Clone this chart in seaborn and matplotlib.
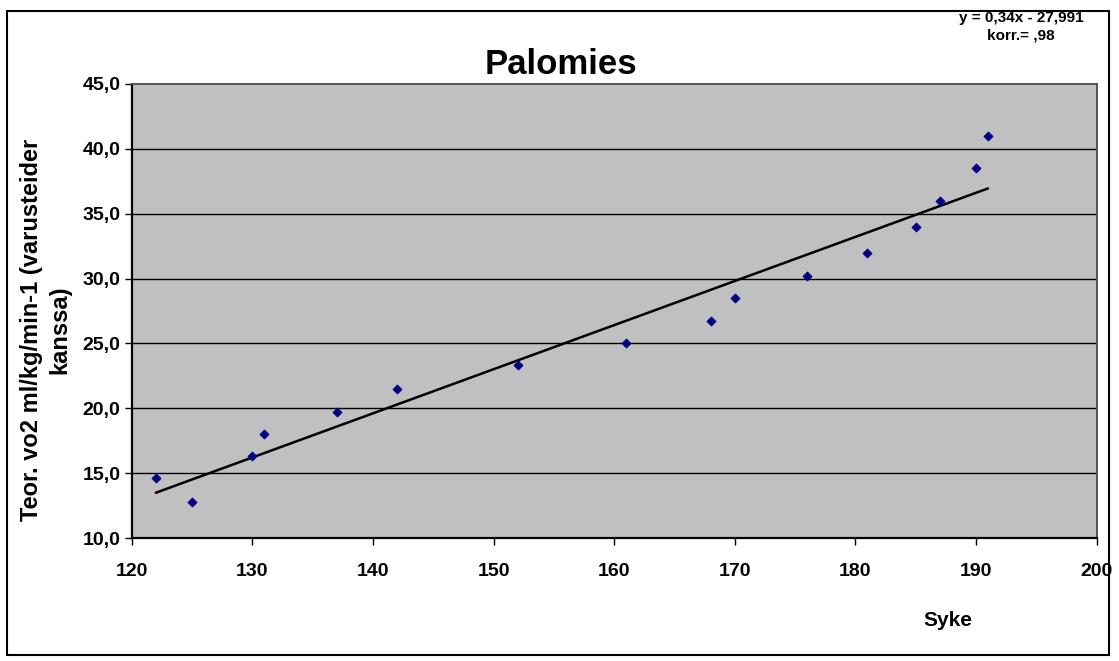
import numpy as np
import pandas as pd
import seaborn as sns
import matplotlib.pyplot as plt
from matplotlib.patches import Rectangle

# values
syke = [122, 125, 130, 131, 137, 142, 152, 161, 168, 170, 176, 181, 185, 187, 190, 191]
vo2 = [14.6, 12.8, 16.3, 18.0, 19.7, 21.5, 23.3, 25.0, 26.7, 28.5, 30.2, 32.0, 34.0, 36.0, 38.5, 41.0]
slope = 0.34
intercept = -27.991
x_ticks = [120, 130, 140, 150, 160, 170, 180, 190, 200]
y_ticks = [10, 15, 20, 25, 30, 35, 40, 45]

df = pd.DataFrame({"Syke": syke, "VO2": vo2})

sns.set_theme(style="white")
plt.rcParams['font.family'] = ['Liberation Sans', 'DejaVu Sans']
plt.rcParams['text.color'] = 'black'
plt.rcParams['xtick.color'] = 'black'
plt.rcParams['ytick.color'] = 'black'

fig = plt.figure(figsize=(11.19, 6.61), dpi=100)
ax = fig.add_axes([131.7 / 1119, 1 - 538 / 661, (1096.5 - 131.7) / 1119, (538 - 84) / 661])
ax.set_facecolor("#C0C0C0")

# grid lines
for yv in y_ticks[1:-1]:
    ax.axhline(yv, color="black", lw=1.0, zorder=1)

# trend line
xl = np.array([min(syke), max(syke)])
ax.plot(xl, slope * xl + intercept, color="black", lw=1.8, zorder=2)

sns.scatterplot(data=df, x="Syke", y="VO2", marker="D", color="#000080",
                s=22, edgecolor="#000080", linewidth=0.5, ax=ax, zorder=3)

ax.set_xlim(120, 200)
ax.set_ylim(10, 45)
ax.set_xticks(x_ticks)
ax.set_yticks(y_ticks)
ax.set_xticklabels([str(v) for v in x_ticks], fontsize=14, fontweight="bold")
ax.set_yticklabels([f"{v:.1f}".replace(".", ",") for v in y_ticks], fontsize=14, fontweight="bold")
ax.tick_params(axis="both", direction="out", length=5, width=1, color="black",
               bottom=True, left=True)
ax.tick_params(axis="x", pad=13)
ax.tick_params(axis="y", pad=3)
ax.set_xlabel("")
ax.set_ylabel("")

for side in ["left", "bottom"]:
    ax.spines[side].set_color("black")
    ax.spines[side].set_linewidth(1.6)
for side in ["top", "right"]:
    ax.spines[side].set_color("#555555")
    ax.spines[side].set_linewidth(1.4)

fig.text(561 / 1119, 1 - 64 / 661, "Palomies", fontsize=25, fontweight="bold",
         ha="center", va="center")
fig.text(948 / 1119, 1 - 620 / 661, "Syke", fontsize=15, fontweight="bold",
         ha="center", va="center")
fig.text(46 / 1119, 1 - 330 / 661, "Teor. vo2 ml/kg/min-1 (varusteider\nkanssa)",
         fontsize=17, fontweight="bold", rotation=90, ha="center", va="center",
         multialignment="center", linespacing=1.3)
fig.text(1021 / 1119, 1 - 27 / 661, "y = 0,34x - 27,991\nkorr.= ,98",
         fontsize=11, fontweight="bold", ha="center", va="center",
         multialignment="center", linespacing=1.3)

# outer chart border
fig.patches.append(Rectangle((7 / 1119, 1 - 655 / 661), (1109 - 7) / 1119, (655 - 11) / 661,
                             transform=fig.transFigure, fill=False, edgecolor="black",
                             linewidth=1.5))

fig.savefig("out.png", dpi=100, facecolor="white")
